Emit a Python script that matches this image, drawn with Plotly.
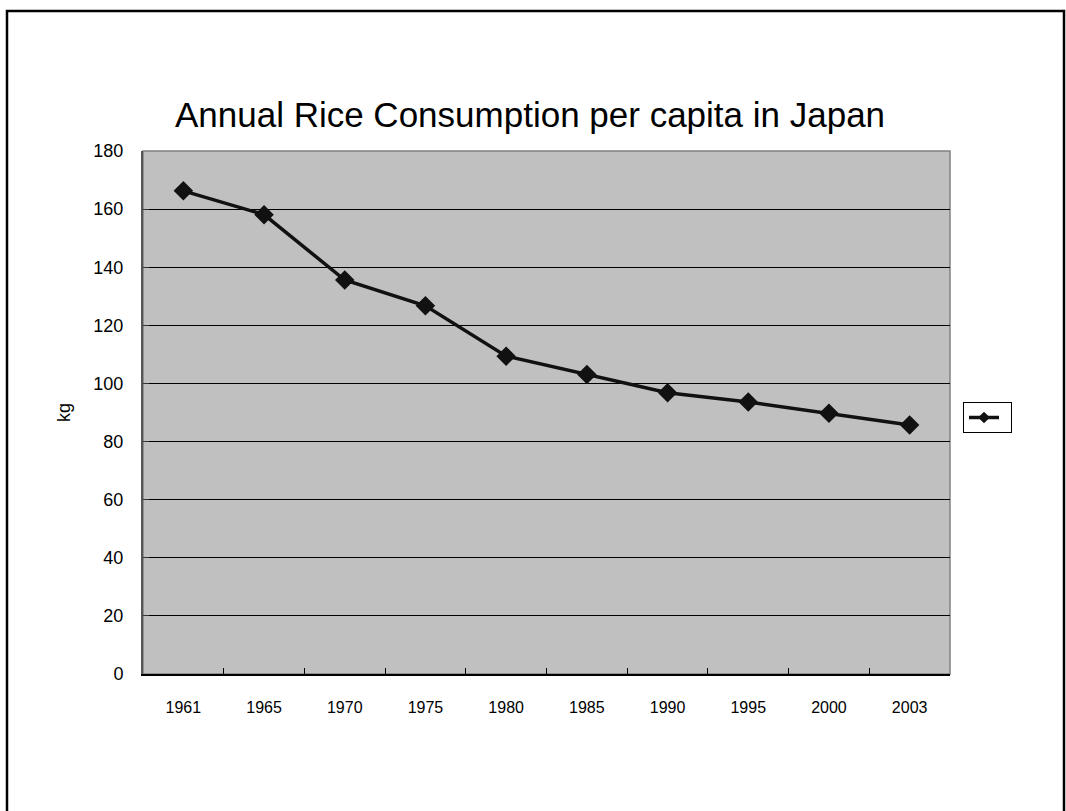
import plotly.graph_objects as go

years = ["1961", "1965", "1970", "1975", "1980", "1985", "1990", "1995", "2000", "2003"]
consumption_kg = [166.3, 158.1, 135.6, 126.7, 109.4, 103.1, 96.8, 93.6, 89.7, 85.7]
y_ticks = [0, 20, 40, 60, 80, 100, 120, 140, 160, 180]

W, H = 1066, 811
L, R, T, B = 143, 950, 151, 674

fig = go.Figure()
fig.add_trace(go.Scatter(
    x=years, y=consumption_kg, mode="lines+markers", name=" ",
    line=dict(color="#111111", width=3.5),
    marker=dict(symbol="diamond", size=15, color="#111111"),
    showlegend=False,
))
# legend-only entry with a smaller marker, like the reference key
fig.add_trace(go.Scatter(
    x=[None], y=[None], mode="lines+markers", name=" ",
    line=dict(color="#111111", width=3.5),
    marker=dict(symbol="diamond", size=9, color="#111111"),
    showlegend=True,
))

font_family = "Liberation Sans, Arial, sans-serif"

fig.update_layout(
    width=W, height=H,
    margin=dict(l=L, r=W - R, t=T, b=H - B, pad=0),
    paper_bgcolor="white",
    plot_bgcolor="#c0c0c0",
    title=dict(text="Annual Rice Consumption per capita in Japan",
               x=(530) / W, xanchor="center", y=1 - 115 / H, yanchor="middle",
               font=dict(family=font_family, size=35, color="black")),
    font=dict(family=font_family, color="black"),
    showlegend=True,
    legend=dict(x=(963 - L) / (R - L), xanchor="left",
                y=(B - 402) / (B - T), yanchor="top",
                bordercolor="black", borderwidth=1, bgcolor="white",
                itemwidth=30, font=dict(size=6),
                tracegroupgap=0),
    xaxis=dict(type="category", tickson="boundaries", ticks="inside", ticklen=6,
               tickcolor="black", tickwidth=1,
               showline=True, linecolor="black", linewidth=2,
               showgrid=False, zeroline=False,
               tickfont=dict(size=16, family=font_family),
               ticklabelstandoff=18, range=[-0.5, 9.5]),
    yaxis=dict(range=[0, 180], tickvals=y_ticks, ticks="inside", ticklen=6,
               tickcolor="#333333",
               showline=True, linecolor="#555555", linewidth=2,
               showgrid=True, gridcolor="black", gridwidth=1,
               zeroline=False,
               tickfont=dict(size=18, family=font_family),
               ticklabelstandoff=14,
               title=dict(text="kg", font=dict(size=18, family=font_family), standoff=18)),
)

# plot area border (top/right in grey)
fig.add_shape(type="rect", xref="paper", yref="paper", x0=0, x1=1, y0=0, y1=1,
              line=dict(color="#808080", width=1.5), layer="below")
# outer chart frame
fig.add_shape(type="rect", xref="paper", yref="paper",
              x0=(7 - L) / (R - L), x1=(1064 - L) / (R - L),
              y0=(B - 815) / (B - T), y1=(B - 11) / (B - T),
              line=dict(color="black", width=2.5))

fig.write_html("out.html")
